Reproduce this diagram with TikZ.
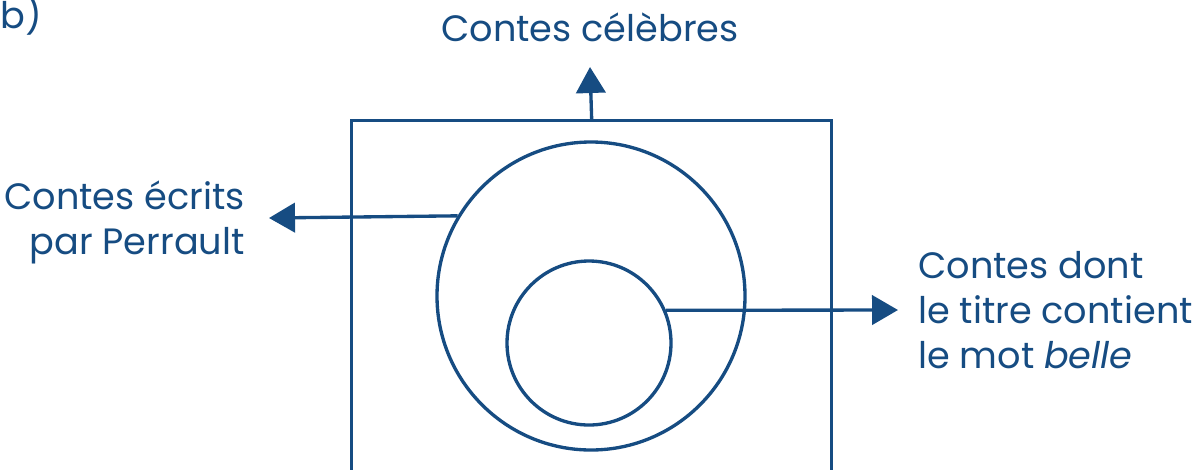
\documentclass[tikz,border=0pt]{standalone}
\usepackage{fontspec}
\setmainfont{Poppins}
\usetikzlibrary{arrows.meta}
\definecolor{dblue}{RGB}{22,76,130}
\tikzset{
  shape line/.style={draw=dblue, line width=2.5pt},
  pointer/.style={draw=dblue, line width=2.5pt, -{Triangle[length=19.5pt,width=22pt]}},
  label text/.style={text=dblue, font=\fontsize{27.5}{33.4}\selectfont, inner sep=0pt},
}
\begin{document}
\begin{tikzpicture}[x=0.75pt,y=-0.75pt]
\useasboundingbox (0,0) rectangle (1198,469);
% universe (open at the bottom, cut by the page edge)
\node[shape line, rectangle, anchor=north west, minimum width=360pt, minimum height=330pt, inner sep=0pt] (univ) at (350,119) {};
\node[shape line, circle, minimum size=231pt, inner sep=0pt] (outer) at (591,296) {};
\node[shape line, circle, minimum size=123pt, inner sep=0pt] (inner) at (589,343) {};
% arrow tips
\coordinate (tipU) at (590,67);
\coordinate (tipL) at (269,218);
\coordinate (tipR) at (898,310);
\draw[pointer] (univ.north) -- (tipU);
\draw[pointer] (outer.149.6) -- (tipL);
\draw[pointer] (inner.23.7) -- (tipR);
% labels
\node[label text, anchor=base west] (b) at (0,28) {b)};
\node[label text, anchor=base] (lU) at (590,41) {Contes célèbres};
\node[label text, anchor=base east, align=right] (lL) at (245,254) {Contes écrits\\par Perrault};
\node[label text, anchor=base west, align=left] (lR) at (918,368) {Contes dont\\le titre contient\\le mot \textit{belle}};
\end{tikzpicture}
\end{document}
